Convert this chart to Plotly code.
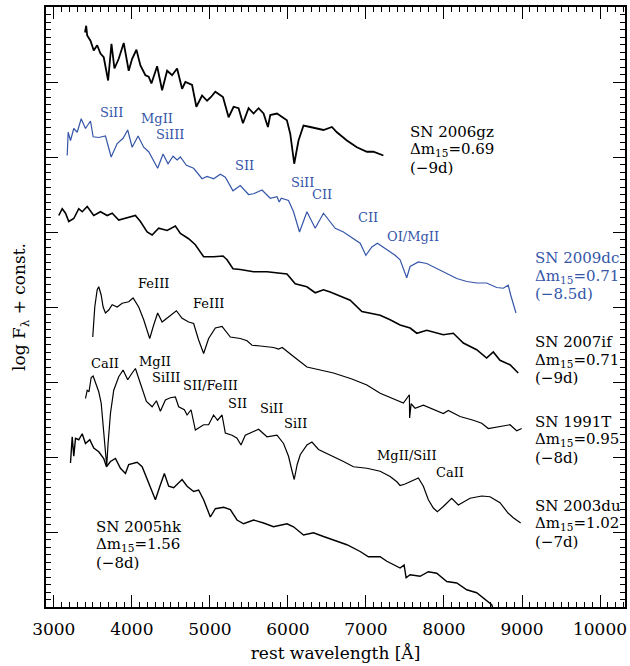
import plotly.graph_objects as go

# (rest wavelength [A], log F_lambda + const)
sn2006gz = [(3400,7.66),(3415,7.75),(3428,7.62),(3470,7.55),(3512,7.42),(3556,7.49),(3598,7.38),(3640,7.33),
            (3696,7.02),(3739,7.51),(3777,7.18),(3832,7.31),(3896,7.52),(3960,7.15),(4004,7.31),(4059,7.43),
            (4110,7.22),(4174,7.09),(4216,7.07),(4251,6.98),(4324,7.21),(4388,6.89),(4452,7.15),(4516,7.09),
            (4580,7.18),(4644,6.91),(4686,7.00),(4772,6.96),(4827,6.67),(4900,6.82),(4964,6.75),(5015,6.80),
            (5070,6.87),(5168,6.80),(5240,6.53),(5304,6.67),(5368,6.65),(5424,6.45),(5496,6.65),(5560,6.58),
            (5624,6.65),(5688,6.58),(5744,6.40),(5774,6.56),(5860,6.58),(5987,6.49),(6030,6.31),(6081,5.91),
            (6136,6.22),(6200,6.42),(6286,6.40),(6372,6.38),(6456,6.36),(6564,6.40),(6628,6.33),(6756,6.22),
            (6884,6.13),(7012,6.07),(7096,6.07),(7224,6.02)]

sn2009dc = [(3172,6.02),(3184,6.33),(3214,6.22),(3256,6.38),(3300,6.33),(3351,6.51),(3406,6.38),(3470,6.48),
            (3504,6.27),(3576,6.26),(3662,6.28),(3735,6.00),(3812,6.18),(3888,6.25),(3947,6.36),(4004,6.13),
            (4080,6.28),(4152,6.13),(4216,6.07),(4331,5.85),(4400,6.04),(4464,5.91),(4528,6.01),(4580,5.96),
            (4622,6.00),(4699,5.89),(4792,5.85),(4900,5.71),(4964,5.74),(5048,5.71),(5134,5.77),(5198,5.73),
            (5296,5.55),(5390,5.62),(5496,5.50),(5560,5.51),(5668,5.56),(5774,5.45),(5860,5.47),(5889,5.40),
            (5915,5.45),(6008,5.42),(6072,5.27),(6149,5.00),(6244,5.27),(6350,5.05),(6456,5.25),(6606,5.05),
            (6712,5.00),(6840,4.91),(6926,4.85),(6999,4.69),(7076,4.80),(7147,4.85),(7268,4.76),(7374,4.69),
            (7438,4.63),(7489,4.47),(7523,4.39),(7566,4.54),(7672,4.60),(7779,4.58),(7907,4.51),(8036,4.45),
            (8164,4.38),(8292,4.34),(8419,4.32),(8547,4.32),(8675,4.26),(8760,4.25),(8824,4.29),(8855,4.16),
            (8897,4.00),(8923,3.92)]

sn2007if = [(3064,5.22),(3108,5.31),(3150,5.25),(3192,5.14),(3256,5.18),(3320,5.31),(3364,5.27),(3428,5.34),
            (3512,5.22),(3598,5.27),(3684,5.22),(3748,5.25),(3832,5.16),(3918,5.18),(4046,5.22),(4110,5.14),
            (4196,5.00),(4260,4.96),(4344,5.05),(4452,5.02),(4558,5.08),(4622,4.98),(4728,4.91),(4814,4.83),
            (4920,4.67),(5048,4.67),(5168,4.68),(5220,4.63),(5296,4.51),(5390,4.50),(5560,4.47),(5732,4.47),
            (5988,4.44),(6094,4.31),(6243,4.27),(6350,4.19),(6456,4.23),(6542,4.20),(6670,4.14),(6798,4.09),
            (6948,3.94),(7054,3.92),(7182,3.89),(7310,3.83),(7438,3.76),(7566,3.72),(7652,3.65),(7779,3.69),
            (7864,3.67),(7992,3.63),(8120,3.65),(8248,3.52),(8419,3.43),(8547,3.32),(8632,3.40),(8718,3.29),
            (8846,3.23),(8952,3.12)]

sn1991T = [(3499,3.60),(3525,4.00),(3556,4.23),(3576,4.27),(3607,4.16),(3632,4.00),(3662,3.92),(3704,3.96),
           (3748,4.03),(3812,4.00),(3876,4.05),(3960,4.07),(4016,4.12),(4088,4.00),(4152,3.83),(4229,3.58),
           (4280,3.76),(4331,3.92),(4388,3.80),(4472,3.87),(4571,3.95),(4644,3.85),(4728,3.80),(4792,3.78),
           (4856,3.56),(4920,3.38),(4984,3.58),(5070,3.72),(5156,3.74),(5262,3.60),(5390,3.58),(5476,3.55),
           (5540,3.49),(5646,3.48),(5816,3.46),(5880,3.44),(5927,3.46),(6072,3.34),(6244,3.20),(6414,3.16),
           (6584,3.12),(6820,3.04),(7012,2.96),(7182,2.85),(7352,2.77),(7480,2.72),(7557,2.83),(7560,2.52),
           (7579,2.71),(7630,2.65),(7736,2.69),(7864,2.63),(7992,2.58),(8056,2.62),(8206,2.54),(8376,2.49),
           (8484,2.45),(8568,2.38),(8718,2.41),(8846,2.43),(8932,2.35),(8996,2.38)]

sn2003du = [(3406,2.78),(3428,2.89),(3451,2.87),(3479,3.06),(3504,3.08),(3534,2.98),(3576,2.87),(3607,2.72),
            (3640,2.27),(3671,1.92),(3678,1.88),(3694,2.16),(3726,2.58),(3768,2.89),(3832,3.07),(3888,3.16),
            (3947,3.03),(4004,3.12),(4046,3.18),(4110,2.98),(4187,2.74),(4260,2.67),(4315,2.75),(4366,2.61),
            (4430,2.76),(4494,2.79),(4558,2.80),(4600,2.67),(4673,2.63),(4708,2.56),(4759,2.63),(4814,2.36),
            (4920,2.43),(4984,2.43),(5048,2.56),(5099,2.49),(5156,2.56),(5198,2.32),(5284,2.29),(5348,2.25),
            (5399,2.16),(5454,2.29),(5518,2.32),(5624,2.37),(5732,2.27),(5860,2.29),(5944,2.18),(6008,2.01),
            (6049,1.83),(6081,1.70),(6119,1.90),(6158,2.03),(6244,2.16),(6308,2.20),(6392,2.10),(6542,2.03),
            (6712,1.94),(6840,1.87),(7012,1.85),(7182,1.81),(7310,1.74),(7396,1.67),(7438,1.62),(7502,1.64),
            (7566,1.67),(7672,1.72),(7736,1.61),(7800,1.43),(7864,1.32),(7915,1.27),(7992,1.34),(8099,1.45),
            (8184,1.36),(8334,1.45),(8484,1.48),(8590,1.47),(8718,1.39),(8824,1.25),(8888,1.19),(8983,1.12)]

sn2005hk = [(3214,1.92),(3236,2.27),(3256,2.01),(3278,2.25),(3320,2.23),(3364,2.31),(3406,2.18),(3461,2.23),
            (3512,2.12),(3576,2.07),(3640,1.98),(3675,1.87),(3726,1.94),(3790,1.98),(3854,1.85),(3918,1.78),
            (3960,1.90),(4068,1.93),(4132,1.87),(4196,1.70),(4260,1.54),(4302,1.43),(4366,1.63),(4417,1.78),
            (4472,1.61),(4536,1.59),(4644,1.70),(4708,1.61),(4792,1.54),(4856,1.56),(4920,1.43),(4964,1.30),
            (5006,1.20),(5070,1.31),(5176,1.33),(5262,1.30),(5348,1.16),(5432,1.11),(5560,1.16),(5688,1.12),
            (5816,1.07),(5988,1.11),(6072,1.07),(6200,0.96),(6328,0.99),(6456,0.94),(6584,0.89),(6756,0.83),
            (6926,0.74),(7032,0.67),(7182,0.67),(7268,0.61),(7438,0.52),(7489,0.56),(7515,0.39),(7566,0.43),
            (7694,0.41),(7800,0.47),(7907,0.45),(8036,0.34),(8164,0.32),(8292,0.23),(8419,0.19),(8504,0.12),
            (8612,0.03),(8641,-0.06)]

x_tick_values = [3000, 4000, 5000, 6000, 7000, 8000, 9000, 10000]
x_tick_labels = ["3000", "4000", "5000", "6000", "7000", "8000", "9000", "10000"]

BLACK = "#000000"
BLUE = "#3556a8"

# (name, data, colour, line width)
spectra = [("SN 2006gz", sn2006gz, BLACK, 1.8), ("SN 2009dc", sn2009dc, BLUE, 1.2),
           ("SN 2007if", sn2007if, BLACK, 1.6), ("SN 1991T", sn1991T, BLACK, 1.2),
           ("SN 2003du", sn2003du, BLACK, 1.2), ("SN 2005hk", sn2005hk, BLACK, 1.4)]

# name labels: (text lines, x, y of first line, color)
name_labels = [
    (["SN 2006gz", "Δm<sub>15</sub>=0.69", "(−9d)"], 7540, 6.34, BLACK),
    (["SN 2009dc", "Δm<sub>15</sub>=0.71", "(−8.5d)"], 9140, 4.65, BLUE),
    (["SN 2007if", "Δm<sub>15</sub>=0.71", "(−9d)"], 9140, 3.53, BLACK),
    (["SN 1991T", "Δm<sub>15</sub>=0.95", "(−8d)"], 9140, 2.47, BLACK),
    (["SN 2003du", "Δm<sub>15</sub>=1.02", "(−7d)"], 9140, 1.35, BLACK),
    (["SN 2005hk", "Δm<sub>15</sub>=1.56", "(−8d)"], 3509, 1.07, BLACK),
]

# line identifications: (text, x, y, color)
line_ids = [
    ("SiII", 3739, 6.60, BLUE), ("MgII", 4327, 6.52, BLUE), ("SiIII", 4494, 6.30, BLUE),
    ("SII", 5441, 5.89, BLUE), ("SiII", 6183, 5.66, BLUE), ("CII", 6433, 5.50, BLUE),
    ("CII", 7028, 5.19, BLUE), ("OI/MgII", 7604, 4.94, BLUE),
    ("FeIII", 4283, 4.32, BLACK), ("FeIII", 4980, 4.05, BLACK),
    ("CaII", 3662, 3.25, BLACK), ("MgII", 4302, 3.28, BLACK), ("SiIII", 4436, 3.06, BLACK),
    ("SII/FeIII", 5012, 2.95, BLACK), ("SII", 5351, 2.72, BLACK), ("SiII", 5786, 2.65, BLACK),
    ("SiII", 6093, 2.45, BLACK), ("MgII/SiII", 7521, 2.02, BLACK), ("CaII", 8071, 1.80, BLACK),
]

FONT = "DejaVu Serif"

fig = go.Figure()
for name, data, color, lw in spectra:
    fig.add_trace(go.Scatter(x=[p[0] for p in data], y=[p[1] for p in data], mode="lines",
                             name=name, line=dict(color=color, width=lw), showlegend=False))

ann = []
for lines, x, y, color in name_labels:
    for i, t in enumerate(lines):
        ann.append(dict(x=x, y=y, xref="x", yref="y", text=t, showarrow=False, xanchor="left",
                        yanchor="middle", yshift=-18 * i, font=dict(family=FONT, size=15, color=color)))
for t, x, y, color in line_ids:
    ann.append(dict(x=x, y=y, xref="x", yref="y", text=t, showarrow=False, xanchor="center",
                    yanchor="middle", font=dict(family=FONT, size=13, color=color)))

axis_common = dict(showline=True, linecolor="black", linewidth=1.5, mirror="allticks",
                   ticks="inside", ticklen=12, tickwidth=1, tickcolor="black",
                   showgrid=False, zeroline=False, automargin=False)

fig.update_layout(
    width=630, height=666,
    margin=dict(l=46, r=5, t=7, b=59),
    paper_bgcolor="white", plot_bgcolor="white",
    annotations=ann,
    xaxis=dict(range=[2900, 10320], tickvals=x_tick_values, ticktext=x_tick_labels,
               ticklabelstandoff=6,
               minor=dict(dtick=100, tick0=0, ticklen=5, ticks="inside", tickcolor="black", tickwidth=1),
               tickfont=dict(family=FONT, size=17, color="black"),
               title=dict(text="rest wavelength [Å]", font=dict(family=FONT, size=17, color="black"),
                          standoff=9),
               **axis_common),
    yaxis=dict(range=[0, 8], tick0=0, dtick=1, showticklabels=False,
               minor=dict(dtick=0.1, ticklen=5, ticks="inside", tickcolor="black", tickwidth=1),
               title=dict(text="log F<sub>λ</sub> + const.", font=dict(family=FONT, size=17, color="black"),
                          standoff=14),
               **axis_common),
)

fig.write_html("out.html", config={"displayModeBar": False},
               post_script="document.body.style.margin='0px';document.body.style.padding='0px';"
                           "document.documentElement.style.overflow='hidden';")
